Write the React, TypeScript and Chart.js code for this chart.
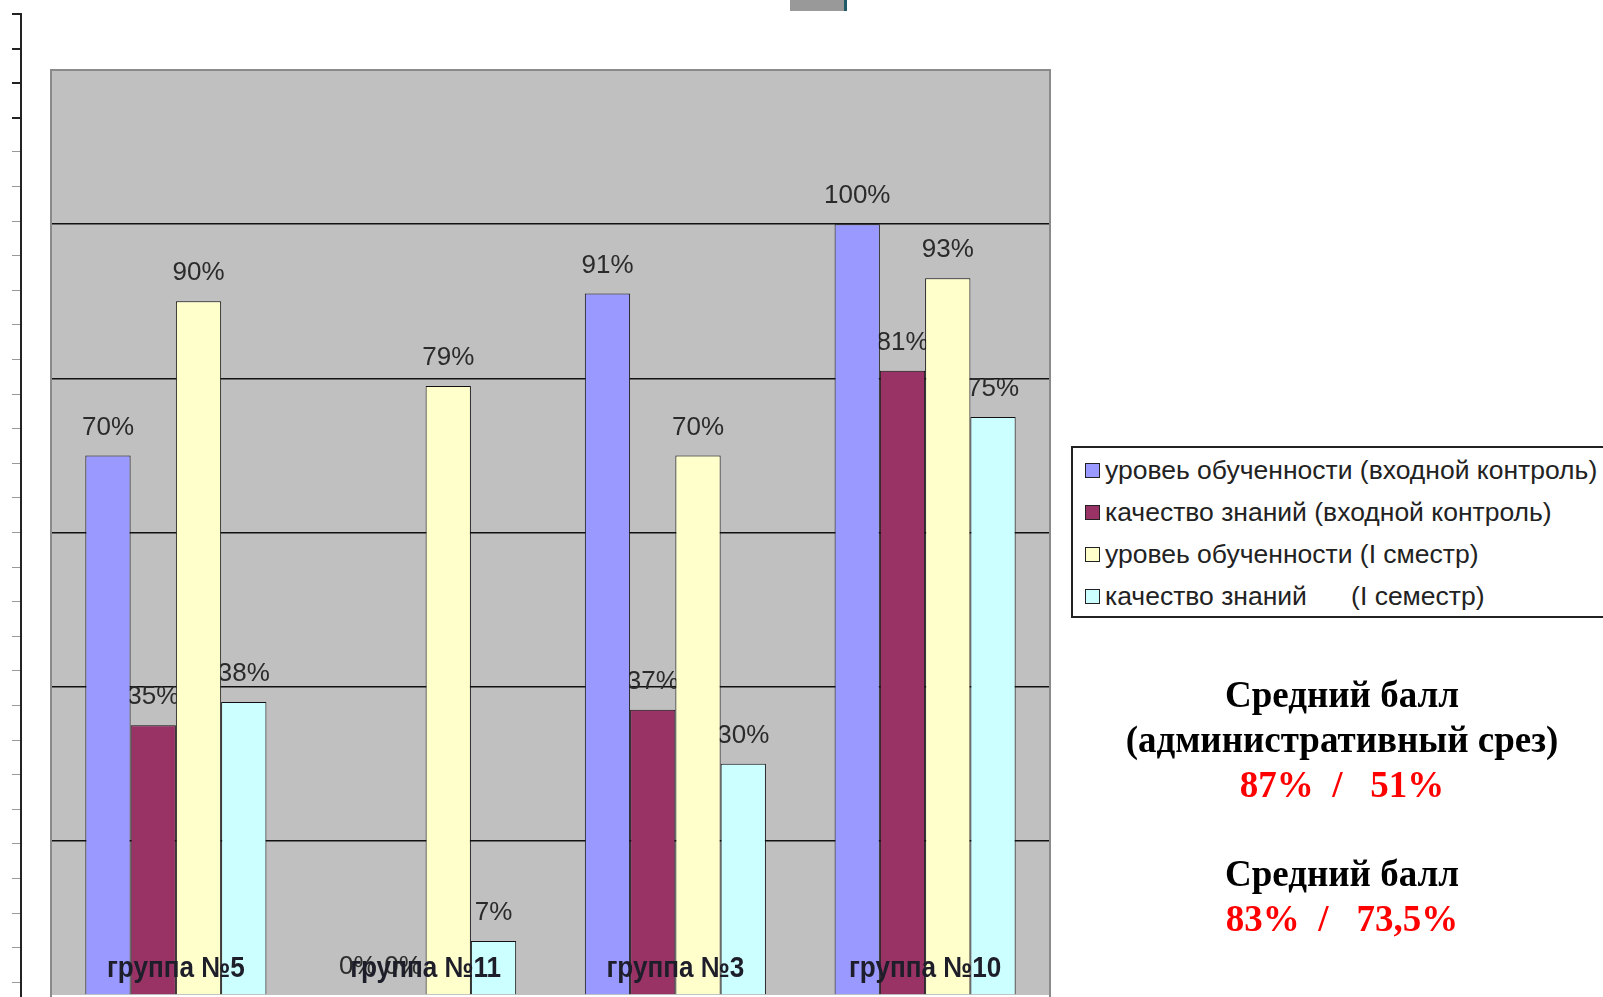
import React, { useEffect, useRef } from "react";
import { Chart, registerables } from "chart.js";

Chart.register(...registerables);

const categories = ["группа №5", "группа №11", "группа №3", "группа №10"];
const seriesLabels = [
  "уровеь обученности (входной контроль)",
  "качество знаний (входной контроль)",
  "уровеь обученности (I сместр)",
  "качество знаний      (I семестр)",
];
const levelEntry = [70, 0, 91, 100];
const qualityEntry = [35, 0, 37, 81];
const levelSemester = [90, 79, 70, 93];
const qualitySemester = [38, 7, 30, 75];
const seriesColors = ["#9999FF", "#993366", "#FFFFCC", "#CCFFFF"];
const yMax = 120;
const yStep = 20;
const summaryTitle1 = ["Средний балл", "(административный срез)"];
const summaryValue1 = "87%  /   51%";
const summaryTitle2 = ["Средний балл"];
const summaryValue2 = "83%  /   73,5%";

const W = 1603;
const H = 997;

const plotBg = {
  id: "plotBg",
  beforeDraw(chart: any) {
    const { ctx, chartArea: a } = chart;
    ctx.save();
    ctx.fillStyle = "#C0C0C0";
    ctx.fillRect(a.left, a.top, a.right - a.left, a.bottom - a.top);
    ctx.restore();
  },
  afterDraw(chart: any) {
    const { ctx, chartArea: a } = chart;
    ctx.save();
    ctx.strokeStyle = "#8a8a8a";
    ctx.lineWidth = 2;
    ctx.strokeRect(a.left, a.top, a.right - a.left, a.bottom - a.top + 4);
    ctx.restore();
  },
};

const valueLabels = {
  id: "valueLabels",
  beforeDatasetsDraw(chart: any) {
    const { ctx } = chart;
    ctx.save();
    ctx.font = "26px 'Liberation Sans', Arial, sans-serif";
    ctx.fillStyle = "#2b2b2b";
    ctx.textAlign = "center";
    ctx.textBaseline = "middle";
    chart.data.datasets.forEach((ds: any, i: number) => {
      const meta = chart.getDatasetMeta(i);
      meta.data.forEach((bar: any, j: number) => {
        ctx.fillText(`${ds.data[j]}%`, bar.x, bar.y - 28);
      });
    });
    ctx.restore();
  },
};

const categoryLabels = {
  id: "categoryLabels",
  afterDatasetsDraw(chart: any) {
    const { ctx, chartArea: a } = chart;
    const xs = chart.scales.x;
    ctx.save();
    ctx.font = "bold 29px 'Liberation Sans', Arial, sans-serif";
    ctx.fillStyle = "#1e1e2a";
    ctx.textAlign = "center";
    ctx.textBaseline = "middle";
    const sx = 0.9;
    chart.data.labels.forEach((lab: string, i: number) => {
      ctx.save();
      ctx.translate(xs.getPixelForValue(i), a.bottom - 26);
      ctx.scale(sx, 1);
      ctx.fillText(lab, 0, 0);
      ctx.restore();
    });
    ctx.restore();
  },
};

function BarChart() {
  const ref = useRef<HTMLCanvasElement>(null);
  useEffect(() => {
    if (!ref.current) return;
    const seriesData = [levelEntry, qualityEntry, levelSemester, qualitySemester];
    const chart = new Chart(ref.current, {
      type: "bar",
      data: {
        labels: categories,
        datasets: seriesData.map((d, i) => ({
          label: seriesLabels[i],
          data: d,
          backgroundColor: seriesColors[i],
          borderColor: "#111111",
          borderWidth: 1,
          categoryPercentage: 0.725,
          barPercentage: 1,
        })),
      },
      options: {
        responsive: false,
        animation: false,
        devicePixelRatio: 1,
        layout: { padding: { left: 51, top: 70, right: W - 1050, bottom: 2 } },
        plugins: { legend: { display: false }, tooltip: { enabled: false } },
        scales: {
          x: { display: false },
          y: {
            min: 0,
            max: yMax,
            ticks: { display: false, stepSize: yStep },
            border: { display: false },
            grid: {
              drawTicks: false,
              lineWidth: 1.5,
              color: (c: any) =>
                c.tick && (c.tick.value === 0 || c.tick.value === yMax)
                  ? "rgba(0,0,0,0)"
                  : "#111111",
            },
          },
        },
      },
      plugins: [plotBg, valueLabels, categoryLabels],
    });
    return () => chart.destroy();
  }, []);
  return <canvas ref={ref} width={W} height={H} style={{ position: "absolute", left: 0, top: 0 }} />;
}

export default function App() {
  const ticks = Array.from({ length: 29 }, (_, i) => i);
  const summaryStyle: React.CSSProperties = {
    position: "absolute",
    left: 1092,
    width: 500,
    textAlign: "center",
    fontFamily: "'Liberation Serif', 'Times New Roman', serif",
    fontWeight: "bold",
    fontSize: 37,
    lineHeight: "45px",
    whiteSpace: "pre",
  };
  return (
    <div
      style={{
        position: "fixed",
        left: 0,
        top: 0,
        width: W,
        height: H,
        background: "#ffffff",
        overflow: "hidden",
      }}
    >
      {/* left stray axis fragment */}
      <div style={{ position: "absolute", left: 20, top: 13, width: 2, height: H, background: "#222" }} />
      {ticks.map((i) => (
        <div
          key={i}
          style={{
            position: "absolute",
            left: 12,
            top: 13 + i * 34.6,
            width: 8,
            height: i < 4 ? 2 : 1,
            background: i < 4 ? "#222" : "#999",
          }}
        />
      ))}
      {/* top stray shape fragment */}
      <div style={{ position: "absolute", left: 790, top: 0, width: 54, height: 11, background: "#999999", borderRight: "3px solid #1f5a66" }} />
      <BarChart />
      {/* legend */}
      <div
        style={{
          position: "absolute",
          left: 1071,
          top: 446,
          width: 560,
          height: 168,
          border: "2px solid #222",
          background: "#fff",
          fontFamily: "'Liberation Sans', Arial, sans-serif",
          fontSize: 26.5,
          color: "#222",
        }}
      >
        {seriesLabels.map((lab, i) => (
          <div
            key={i}
            style={{
              position: "absolute",
              left: 12,
              top: 1 + i * 42,
              height: 42,
              display: "flex",
              alignItems: "center",
              whiteSpace: "pre",
            }}
          >
            <span
              style={{
                display: "inline-block",
                width: 13,
                height: 13,
                border: "1px solid #222",
                background: seriesColors[i],
                marginRight: 5,
              }}
            />
            {lab}
          </div>
        ))}
      </div>
      {/* summary text */}
      <div style={{ ...summaryStyle, top: 672 }}>
        {summaryTitle1.map((t, i) => (
          <div key={i} style={{ color: "#000" }}>{t}</div>
        ))}
        <div style={{ color: "#FF0000" }}>{summaryValue1}</div>
      </div>
      <div style={{ ...summaryStyle, top: 851 }}>
        {summaryTitle2.map((t, i) => (
          <div key={i} style={{ color: "#000" }}>{t}</div>
        ))}
        <div style={{ color: "#FF0000" }}>{summaryValue2}</div>
      </div>
    </div>
  );
}
